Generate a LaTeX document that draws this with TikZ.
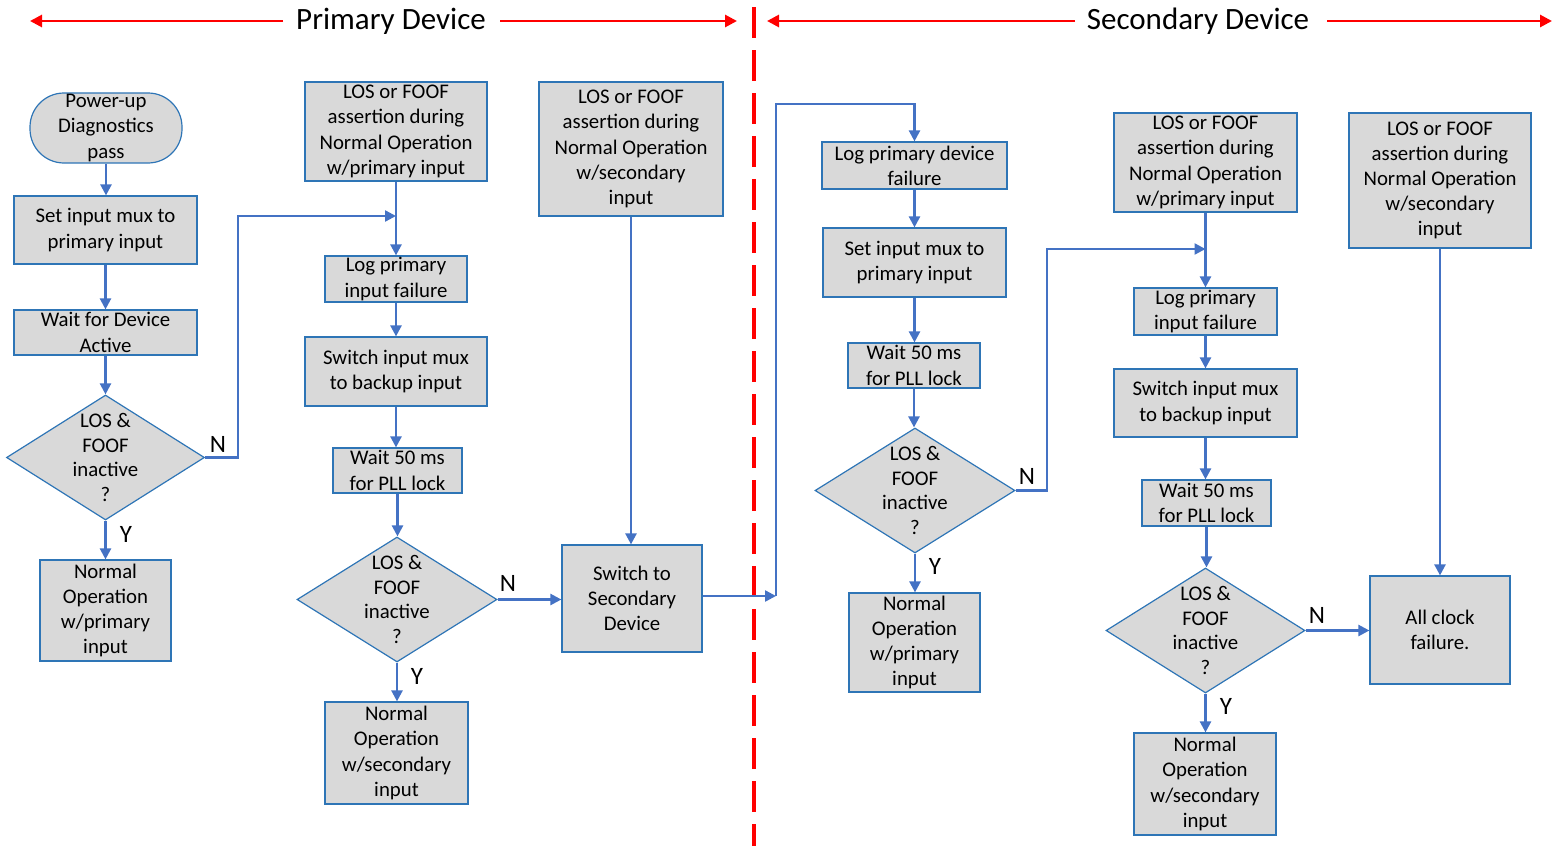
\documentclass[tikz,border=0pt]{standalone}
\usepackage{fontspec}
\setmainfont{Carlito}
\usetikzlibrary{shapes.geometric,arrows.meta}
\definecolor{boxfill}{HTML}{D9D9D9}
\definecolor{boxline}{HTML}{2E75B6}
\definecolor{conn}{HTML}{4472C4}
\definecolor{hred}{HTML}{FF0000}
\tikzset{
  box/.style={draw=boxline, line width=0.6pt, fill=boxfill, align=center, inner sep=0pt,
    font=\fontsize{10.4}{12.6}\selectfont},
  startbox/.style={box, rounded corners=17pt},
  dec/.style={diamond, draw=boxline, line width=0.6pt, fill=boxfill, inner sep=0pt},
  dtext/.style={align=center, font=\fontsize{10.4}{12.4}\selectfont, inner sep=0pt},
  conn/.style={draw=conn, line width=1.2pt, -{Triangle[length=5.5pt,width=5.5pt]}},
  plain/.style={draw=conn, line width=1.2pt},
  yn/.style={font=\fontsize{12.5}{14}\selectfont, inner sep=0pt},
  hdr/.style={font=\fontsize{15.5}{18}\selectfont, inner sep=0pt},
  harrow/.style={draw=hred, line width=1.4pt, -{Triangle[length=6pt,width=6pt]}},
}
\newcommand{\bx}[6]{\node[#1, minimum width=#4*0.5pt, minimum height=#5*0.5pt] (#2) at (#3) {#6};}
\newcommand{\dm}[4]{\node[dec, minimum width=#3*0.5pt, minimum height=#4*0.5pt] (#1) at (#2) {};}
\begin{document}
\begin{tikzpicture}[x=0.5pt,y=-0.5pt]
\useasboundingbox (0,0) rectangle (1564,846);
% header
\node[hdr] (hp) at (391,21) {Primary Device};
\node[hdr] (hs) at (1198,21) {Secondary Device};
\coordinate (hpl) at (30,21); \coordinate (hpr) at (737,21);
\coordinate (hsl) at (767,21); \coordinate (hsr) at (1552,21);
\draw[harrow] (283,21) -- (hpl);
\draw[harrow] (500,21) -- (hpr);
\draw[harrow] (1075,21) -- (hsl);
\draw[harrow] (1327,21) -- (hsr);
\coordinate (dvt) at (754,7); \coordinate (dvb) at (754,846);
\draw[hred, line width=2pt, dash pattern=on 15.5pt off 6pt] (dvt) -- (dvb);

% primary column 1
\bx{startbox}{p1}{106,128}{152}{70}{Power-up\\Diagnostics\\pass}
\bx{box}{p2}{105.5,230}{183}{68}{Set input mux to\\primary input}
\bx{box}{p3}{105.5,332.5}{183}{45}{Wait for Device\\Active}
\dm{d1}{105.5,457.5}{198}{125}
\node[dtext] (d1t) at (d1) {LOS \&\\FOOF\\inactive\\?};
\bx{box}{p5}{105.5,610.5}{131}{101}{Normal\\Operation\\w/primary\\input}

% primary column 2
\bx{box}{p6}{396,131.5}{182}{99}{LOS or FOOF\\assertion during\\Normal Operation\\w/primary input}
\bx{box}{p7}{396,279}{142}{46}{Log primary\\input failure}
\bx{box}{p8}{396,371.5}{182}{69}{Switch input mux\\to backup input}
\bx{box}{p9}{397.5,470.5}{129}{45}{Wait 50 ms\\for PLL lock}
\dm{d2}{397,599.5}{200}{125}
\node[dtext] (d2t) at (d2) {LOS \&\\FOOF\\inactive\\?};
\bx{box}{p11}{396.5,753}{143}{102}{Normal\\Operation\\w/secondary\\input}

% primary column 3
\bx{box}{p12}{631,149}{184}{134}{LOS or FOOF\\assertion during\\Normal Operation\\w/secondary\\input}
\bx{box}{p13}{632,598.5}{140}{107}{Switch to\\Secondary\\Device}

% secondary column 1
\bx{box}{s1}{914.5,165.5}{185}{47}{Log primary device\\failure}
\bx{box}{s2}{914.5,262.5}{183}{69}{Set input mux to\\primary input}
\bx{box}{s3}{914,365.5}{132}{45}{Wait 50 ms\\for PLL lock}
\dm{d3}{915,490.5}{200}{125}
\node[dtext] (d3t) at (d3) {LOS \&\\FOOF\\inactive\\?};
\bx{box}{s5}{914.5,642.5}{131}{99}{Normal\\Operation\\w/primary\\input}

% secondary column 2
\bx{box}{s6}{1205.5,162.5}{183}{99}{LOS or FOOF\\assertion during\\Normal Operation\\w/primary input}
\bx{box}{s7}{1205.5,311.5}{143}{47}{Log primary\\input failure}
\bx{box}{s8}{1205.5,403}{183}{68}{Switch input mux\\to backup input}
\bx{box}{s9}{1206.5,503}{129}{46}{Wait 50 ms\\for PLL lock}
\dm{d4}{1205.5,630.5}{199}{125}
\node[dtext] (d4t) at (d4) {LOS \&\\FOOF\\inactive\\?};
\bx{box}{s11}{1205,784}{142}{102}{Normal\\Operation\\w/secondary\\input}

% secondary column 3
\bx{box}{s12}{1440,180.5}{182}{135}{LOS or FOOF\\assertion during\\Normal Operation\\w/secondary\\input}
\bx{box}{s13}{1440,630}{140}{108}{All clock\\failure.}

% connectors primary
\draw[conn] (p1.south) -- (p2.north -| p1.south);
\draw[conn] (p2.south) -- (p3.north);
\draw[conn] (p3.south) -- (d1.north);
\draw[conn] (d1.south) -- (p5.north);
\node[yn] (y1) at (126,534) {Y};
\coordinate (m1) at (396,216);
\draw[conn] (d1.east) -- (238,457.5) -- (238,216) -- (m1);
\node[yn] (n1) at (218,444) {N};
\draw[conn] (p6.south) -- (p7.north);
\draw[conn] (p7.south) -- (p8.north);
\draw[conn] (p8.south) -- (p9.north -| p8.south);
\draw[conn] (p9.south) -- (d2.north -| p9.south);
\draw[conn] (d2.south) -- (p11.north -| d2.south);
\node[yn] (y2) at (417,676) {Y};
\draw[conn] (d2.east) -- (p13.west |- d2.east);
\node[yn] (n2) at (508,583) {N};
\draw[conn] (p12.south) -- (p13.north -| p12.south);

% cross-over
\coordinate (x1) at (776,596);
\draw[conn] (p13.east |- x1) -- (x1);
\draw[plain] (x1) -- (776,104) -- (914.5,104);
\draw[conn] (914.5,103.4) -- (s1.north);

% connectors secondary
\draw[conn] (s1.south) -- (s2.north);
\draw[conn] (s2.south) -- (s3.north -| s2.south);
\draw[conn] (s3.south) -- (d3.north -| s3.south);
\draw[conn] (d3.south) -- (s5.north -| d3.south);
\node[yn] (y3) at (935,566) {Y};
\coordinate (m2) at (1205.5,249);
\draw[conn] (d3.east) -- (1047,490.5) -- (1047,249) -- (m2);
\node[yn] (n3) at (1027,476) {N};
\draw[conn] (s6.south) -- (s7.north);
\draw[conn] (s7.south) -- (s8.north);
\draw[conn] (s8.south) -- (s9.north -| s8.south);
\draw[conn] (s9.south) -- (d4.north -| s9.south);
\draw[conn] (d4.south) -- (s11.north -| d4.south);
\node[yn] (y4) at (1226,706) {Y};
\draw[conn] (d4.east) -- (s13.west |- d4.east);
\node[yn] (n4) at (1317,615) {N};
\draw[conn] (s12.south) -- (s13.north);
\end{tikzpicture}
\end{document}
